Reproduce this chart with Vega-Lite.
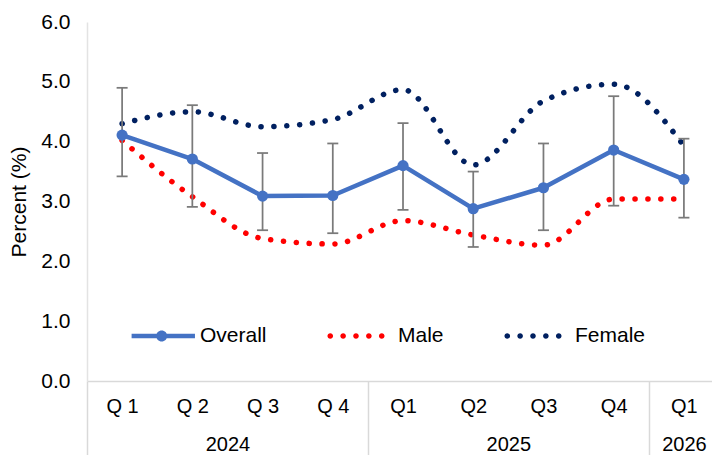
{
  "$schema": "https://vega.github.io/schema/vega-lite/v6.json",
  "width": 625,
  "height": 359,
  "autosize": {"type": "none"},
  "padding": {"left": 87, "top": 22, "right": 0, "bottom": 74},
  "background": "white",
  "config": {
    "font": "Liberation Sans",
    "view": {"stroke": null},
    "axis": {"labelColor": "#000000", "titleColor": "#000000", "grid": false}
  },
  "data": {
    "values": [
      {"idx": 0, "overall": 4.11, "lo": 3.42, "hi": 4.90, "male": 4.02, "female": 4.30},
      {"idx": 1, "overall": 3.71, "lo": 2.91, "hi": 4.61, "male": 3.08, "female": 4.50},
      {"idx": 2, "overall": 3.09, "lo": 2.52, "hi": 3.81, "male": 2.38, "female": 4.25},
      {"idx": 3, "overall": 3.10, "lo": 2.47, "hi": 3.97, "male": 2.29, "female": 4.37},
      {"idx": 4, "overall": 3.60, "lo": 2.86, "hi": 4.31, "male": 2.68, "female": 4.87},
      {"idx": 5, "overall": 2.88, "lo": 2.24, "hi": 3.50, "male": 2.44, "female": 3.61},
      {"idx": 6, "overall": 3.23, "lo": 2.52, "hi": 3.97, "male": 2.27, "female": 4.68},
      {"idx": 7, "overall": 3.86, "lo": 2.93, "hi": 4.76, "male": 3.04, "female": 4.96},
      {"idx": 8, "overall": 3.37, "lo": 2.73, "hi": 4.05, "male": 3.04, "female": 3.93}
    ]
  },
  "encoding": {
    "x": {
      "field": "idx",
      "type": "quantitative",
      "scale": {"domain": [-0.5, 8.4], "nice": false, "zero": false},
      "axis": {
        "title": null,
        "values": [-0.5, 0, 1, 1.5, 2, 3, 3.5, 4, 5, 5.5, 6, 7, 7.5, 8],
        "labelExpr": "datum.value == 8 ? ['Q1','2026'] : datum.value == 1.5 ? ['','2024'] : datum.value == 5.5 ? ['','2025'] : (datum.value < 0 || datum.value == 3.5 || datum.value == 7.5) ? '' : datum.value < 4 ? 'Q ' + (datum.value + 1) : 'Q' + (datum.value - 3)",
        "labelFontSize": 20,
        "labelLineHeight": 38,
        "labelBaseline": "top",
        "labelPadding": -59,
        "labelOverlap": false,
        "labelFlush": false,
        "labelBound": false,
        "domainColor": "#d9d9d9",
        "domainWidth": 1.5,
        "ticks": true,
        "tickSize": 74,
        "tickColor": "#d9d9d9",
        "tickWidth": 1.5,
        "tickOpacity": {"condition": {"test": "datum.value == -0.5 || datum.value == 3.5 || datum.value == 7.5", "value": 1}, "value": 0}
      }
    }
  },
  "layer": [
    {
      "mark": {"type": "line", "interpolate": "monotone", "strokeWidth": 5.5, "strokeDash": [0.1, 12.8], "strokeCap": "round"},
      "encoding": {
        "y": {
          "field": "female",
          "type": "quantitative",
          "scale": {"domain": [0, 6], "nice": false},
          "axis": {
            "title": "Percent (%)",
            "titleFontSize": 21,
            "titleFontWeight": "normal",
            "titlePadding": 11,
            "values": [0, 1, 2, 3, 4, 5, 6],
            "format": ".1f",
            "labelFontSize": 21,
            "labelPadding": 17,
            "ticks": false,
            "domainColor": "#e3e3e3",
            "domainWidth": 1.5
          }
        },
        "color": {
          "datum": "Female",
          "scale": {"domain": ["Overall", "Male", "Female"], "range": ["#4472C4", "#FF0000", "#002060"]},
          "legend": {
            "title": null,
            "orient": "none",
            "direction": "horizontal",
            "legendX": 38,
            "legendY": 281,
            "padding": 0,
            "columnPadding": 56,
            "labelOffset": 9,
            "labelFontSize": 21,
            "labelColor": "#000000",
            "symbolSize": 4356,
            "symbolStrokeWidth": 0,
            "encode": {
              "symbols": {
                "update": {
                  "shape": {"signal": "datum.value === 'Overall' ? 'M-0.8,-0.067H1.12V0.067H-0.8Z M0.279,0A0.167,0.167 0 1 1 -0.055,0A0.167,0.167 0 1 1 0.279,0Z' : 'M-0.695,0A0.085,0.085 0 1 1 -0.865,0A0.085,0.085 0 1 1 -0.695,0Z M-0.305,0A0.085,0.085 0 1 1 -0.475,0A0.085,0.085 0 1 1 -0.305,0Z M0.085,0A0.085,0.085 0 1 1 -0.085,0A0.085,0.085 0 1 1 0.085,0Z M0.475,0A0.085,0.085 0 1 1 0.305,0A0.085,0.085 0 1 1 0.475,0Z M0.865,0A0.085,0.085 0 1 1 0.695,0A0.085,0.085 0 1 1 0.865,0Z'"},
                  "fill": {"signal": "datum.value === 'Overall' ? '#4472C4' : datum.value === 'Male' ? '#FF0000' : '#002060'"},
                  "fillOpacity": {"value": 1},
                  "stroke": {"value": "transparent"},
                  "strokeWidth": {"value": 0},
                  "strokeDash": {"value": []},
                  "size": {"value": 4356}
                }
              }
            }
          }
        }
      }
    },
    {
      "mark": {"type": "line", "interpolate": "monotone", "strokeWidth": 5.5, "strokeDash": [0.1, 12.8], "strokeCap": "round"},
      "encoding": {
        "y": {"field": "male", "type": "quantitative"},
        "color": {"datum": "Male"}
      }
    },
    {
      "mark": {"type": "line", "strokeWidth": 4.5, "strokeJoin": "round"},
      "encoding": {
        "y": {"field": "overall", "type": "quantitative"},
        "color": {"datum": "Overall"}
      }
    },
    {
      "mark": {"type": "rule", "color": "#7a7a7a", "strokeWidth": 1.75},
      "encoding": {
        "y": {"field": "lo", "type": "quantitative"},
        "y2": {"field": "hi"}
      }
    },
    {
      "mark": {"type": "tick", "orient": "horizontal", "size": 11, "thickness": 1.75, "color": "#7a7a7a", "opacity": 1},
      "encoding": {"y": {"field": "lo", "type": "quantitative"}}
    },
    {
      "mark": {"type": "tick", "orient": "horizontal", "size": 11, "thickness": 1.75, "color": "#7a7a7a", "opacity": 1},
      "encoding": {"y": {"field": "hi", "type": "quantitative"}}
    },
    {
      "mark": {"type": "circle", "size": 125, "color": "#4472C4", "opacity": 1},
      "encoding": {"y": {"field": "overall", "type": "quantitative"}}
    }
  ]
}
